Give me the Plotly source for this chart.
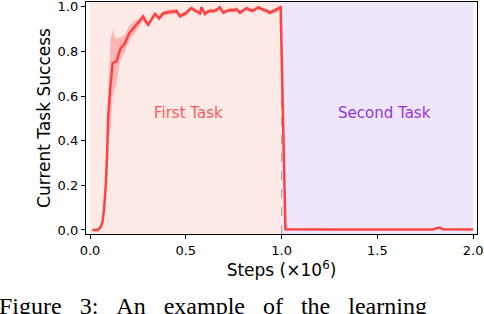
import plotly.graph_objects as go

# ---- data ----
steps = [0.013, 0.025, 0.04, 0.055, 0.065, 0.073, 0.083, 0.09, 0.095, 0.107,
         0.118, 0.128, 0.139, 0.15, 0.16, 0.172, 0.182, 0.194, 0.205, 0.216,
         0.226, 0.24, 0.252, 0.265, 0.278, 0.29, 0.304, 0.32, 0.339, 0.35,
         0.361, 0.372, 0.382, 0.4, 0.417, 0.434, 0.452, 0.469, 0.487, 0.504,
         0.517, 0.53, 0.543, 0.556, 0.574, 0.582, 0.6, 0.615, 0.63, 0.645,
         0.661, 0.678, 0.695, 0.712, 0.73, 0.748, 0.765, 0.782, 0.8, 0.817,
         0.835, 0.852, 0.865, 0.878, 0.895, 0.913, 0.926, 0.939, 0.957, 0.974,
         0.985, 0.995,
         1.02, 1.1, 1.2, 1.3, 1.4, 1.5, 1.6, 1.7, 1.79, 1.81, 1.825, 1.84, 1.9, 2.0]

success_mean = [0.0, 0.0, 0.0, 0.012, 0.035, 0.09, 0.21, 0.36, 0.51, 0.65,
                0.747, 0.752, 0.756, 0.79, 0.814, 0.825, 0.836, 0.86, 0.881, 0.893,
                0.903, 0.912, 0.925, 0.94, 0.955, 0.935, 0.92, 0.942, 0.967, 0.958,
                0.948, 0.96, 0.97, 0.974, 0.976, 0.978, 0.98, 0.958, 0.964, 0.972,
                0.985, 0.993, 0.985, 0.978, 0.97, 0.997, 0.967, 0.978, 0.982, 0.98,
                0.985, 0.997, 0.973, 0.98, 0.985, 0.984, 0.988, 0.973, 0.982, 0.993,
                0.985, 0.982, 0.99, 0.997, 0.99, 0.985, 0.98, 0.973, 0.98, 0.988,
                0.99, 0.997,
                0.003, 0.002, 0.002, 0.002, 0.002, 0.002, 0.002, 0.002, 0.002, 0.008, 0.011, 0.003, 0.002, 0.002]

success_std = [0.003, 0.003, 0.003, 0.005, 0.01, 0.02, 0.04, 0.07, 0.1, 0.2,
               0.15, 0.12, 0.1, 0.07, 0.05, 0.04, 0.04, 0.035, 0.035, 0.03,
               0.03, 0.025, 0.02, 0.018, 0.015, 0.015, 0.012, 0.012, 0.012, 0.012,
               0.012, 0.012, 0.012, 0.012, 0.012, 0.012, 0.012, 0.012, 0.012, 0.012,
               0.01, 0.008, 0.01, 0.01, 0.01, 0.006, 0.01, 0.01, 0.01, 0.01,
               0.01, 0.006, 0.01, 0.01, 0.01, 0.01, 0.01, 0.01, 0.01, 0.008,
               0.01, 0.01, 0.01, 0.006, 0.01, 0.01, 0.01, 0.01, 0.01, 0.01,
               0.01, 0.006,
               0.003, 0.002, 0.002, 0.002, 0.002, 0.002, 0.002, 0.002, 0.002, 0.004, 0.004, 0.002, 0.002, 0.002]

task_labels = ["First Task", "Second Task"]
task_spans = [(0.0, 1.0), (1.0, 2.0)]
x_ticks = [0.0, 0.5, 1.0, 1.5, 2.0]
y_ticks = [0.0, 0.2, 0.4, 0.6, 0.8, 1.0]
caption_words = ["Figure", "3:", "An", "example", "of", "the", "learning"]

# ---- styles ----
LINE = "rgb(255,65,65)"
BAND = "rgba(255,90,90,0.35)"
BG_COLORS = ["#fdeae7", "#f0e6fc"]
TEXT_COLORS = ["#ff5a5a", "#9333ea"]
FONT = "DejaVu Sans"

upper = [m + s for m, s in zip(success_mean, success_std)]
lower = [m - s for m, s in zip(success_mean, success_std)]

fig = go.Figure()
fig.add_trace(go.Scatter(x=steps, y=upper, mode="lines", line=dict(width=0),
                         showlegend=False, hoverinfo="skip"))
fig.add_trace(go.Scatter(x=steps, y=lower, mode="lines", line=dict(width=0),
                         fill="tonexty", fillcolor=BAND, showlegend=False,
                         hoverinfo="skip"))
fig.add_trace(go.Scatter(x=steps, y=success_mean, mode="lines",
                         line=dict(color=LINE, width=2.5), showlegend=False))

for (x0, x1), c in zip(task_spans, BG_COLORS):
    fig.add_shape(type="rect", xref="x", yref="paper", x0=x0, x1=x1, y0=0, y1=1,
                  fillcolor=c, line=dict(width=0), layer="below")

fig.add_shape(type="line", xref="x", yref="paper", x0=1.0, x1=1.0, y0=0, y1=1,
              line=dict(color="#a8a8a8", width=1.2, dash="dash"), layer="below")

label_x = [0.512, 1.539]
for lx, t, c in zip(label_x, task_labels, TEXT_COLORS):
    fig.add_annotation(x=lx, y=0.5, xref="x", yref="y", text=t, showarrow=False,
                       font=dict(family=FONT, size=15, color=c),
                       xanchor="center", yanchor="bottom", yshift=-6)

fig.add_annotation(x=-0.228, y=-0.245, xref="paper", yref="paper",
                   text="&nbsp;&nbsp;&nbsp;".join(caption_words),
                   showarrow=False, xanchor="left", yanchor="top",
                   font=dict(family="Liberation Serif", size=24, color="black"))

axis_common = dict(showline=True, linecolor="black", linewidth=1.2, mirror=True,
                   ticks="outside", ticklen=4, tickwidth=1, tickcolor="black",
                   showgrid=False, zeroline=False, automargin=False,
                   ticklabeloverflow="allow",
                   tickfont=dict(family=FONT, size=13, color="black"))

fig.update_xaxes(range=[-0.021, 2.02], tickvals=x_ticks, tickformat=".1f",
                 title=dict(text="Steps (×10<sup>6</sup>)",
                            font=dict(family=FONT, size=17, color="black"),
                            standoff=6),
                 **axis_common)
fig.update_yaxes(range=[-0.018, 1.021], tickvals=y_ticks, tickformat=".1f",
                 title=dict(text="Current Task Success",
                            font=dict(family=FONT, size=17, color="black"),
                            standoff=2),
                 **axis_common)

fig.update_layout(width=484, height=314, margin=dict(l=86, r=7, t=2, b=80),
                  paper_bgcolor="white", plot_bgcolor="white",
                  font=dict(family=FONT), template="none")

fig.write_html("out.html", config={"displayModeBar": False},
               post_script="document.body.style.margin='0';document.body.style.overflow='hidden';")
